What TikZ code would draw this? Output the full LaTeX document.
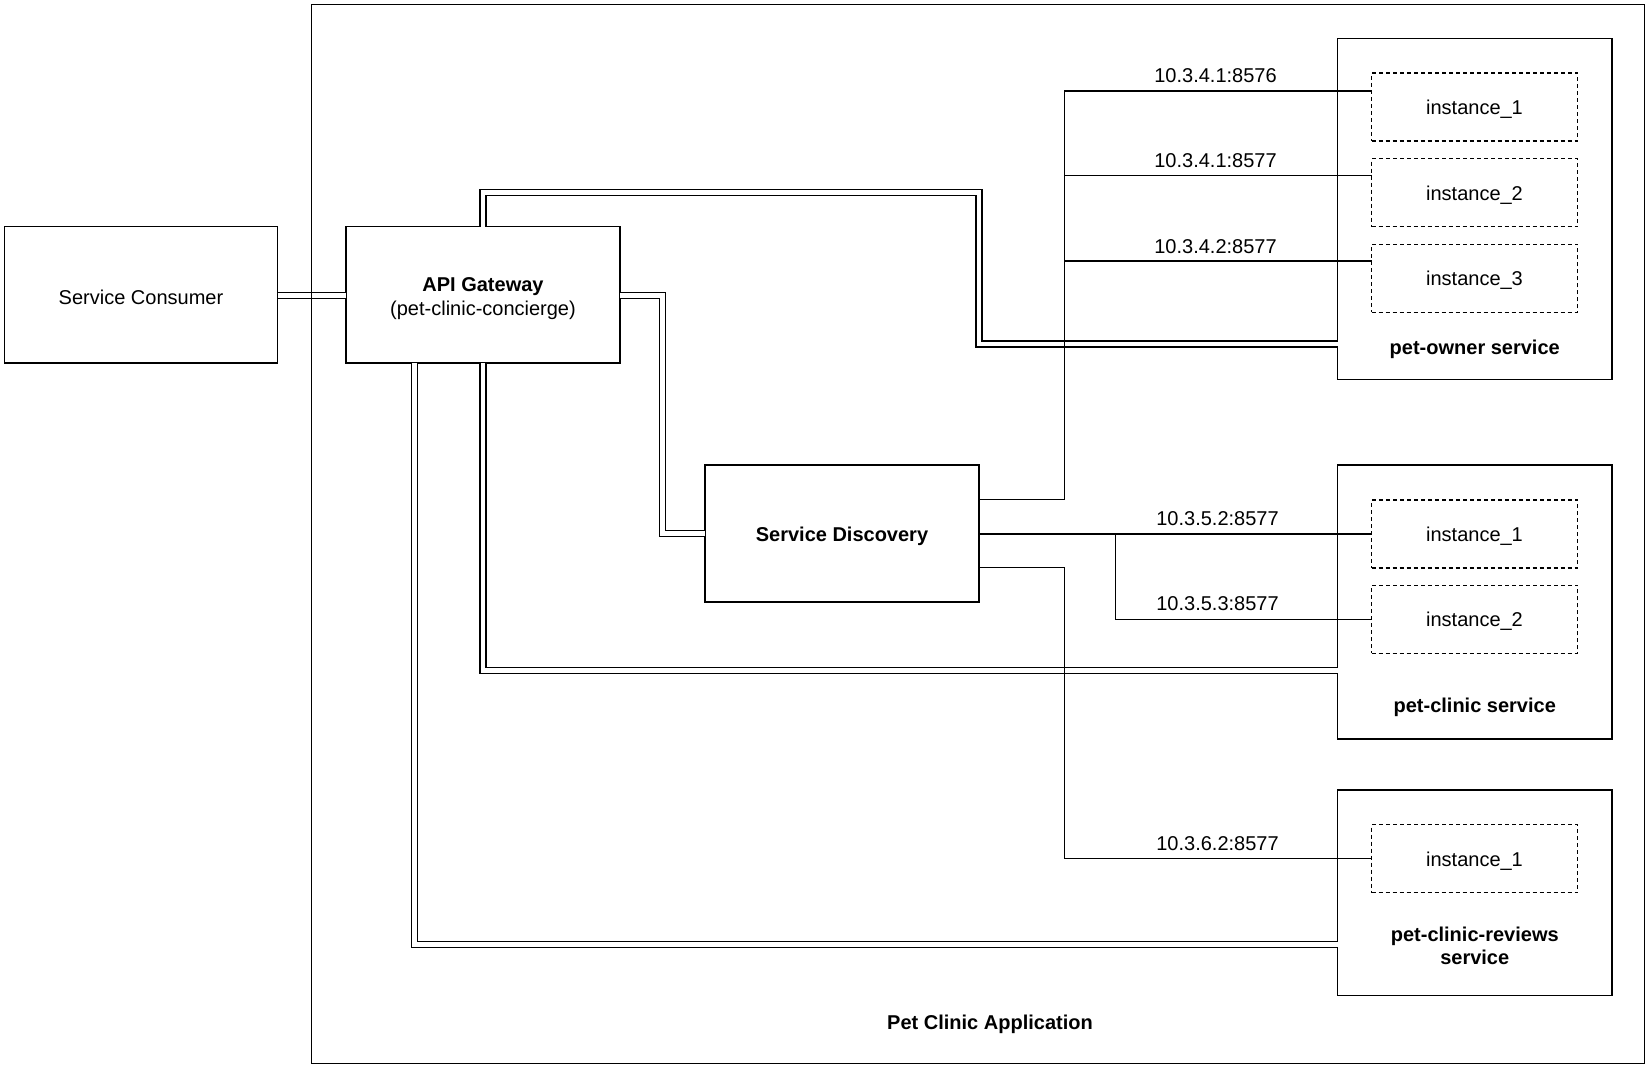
\documentclass[tikz,border=0pt]{standalone}
\usepackage{fontspec}
\setmainfont{Liberation Sans}
\begin{document}
\begin{tikzpicture}[x=1pt,y=-1pt,
  every node/.style={font=\fontsize{20}{24}\selectfont, inner sep=0pt, outer sep=0pt},
  box/.style={draw, line width=1.5pt, fill=white},
  inst/.style={draw, line width=1.5pt, dash pattern=on 4pt off 3pt, fill=white, minimum width=206pt, minimum height=68pt, text height=15pt, text depth=0pt},
  wire/.style={line width=1.5pt},
  dbl/.style={line width=1.4pt, double, double distance=4.6pt},
  lbl/.style={font=\fontsize{20}{24}\selectfont\bfseries, align=center},
  addr/.style={font=\fontsize{20}{24}\selectfont, text height=16.4pt, text depth=0pt}
]
\useasboundingbox (0,0) rectangle (1650,1069);
\fill[white] (0,0) rectangle (1650,1069);

% main boxes
\node[box, minimum width=273pt, minimum height=136.5pt, text height=18.5pt, text depth=0pt] (sc) at (141,294.75) {Service Consumer};
\node[box, minimum width=274pt, minimum height=136.5pt, align=center] (gw) at (483,294.75) {\rule{0pt}{21pt}\textbf{API Gateway}\\(pet-clinic-concierge)};
\node[box, minimum width=274pt, minimum height=137pt, font=\fontsize{20}{24}\selectfont\bfseries, text height=16.5pt, text depth=0pt] (sd) at (842,533.5) {Service Discovery};

% service boxes
\node[box, minimum width=274.5pt, minimum height=341pt] (po) at (1474.75,208.9) {};
\node[box, minimum width=274.5pt, minimum height=274pt] (pc) at (1474.75,602) {};
\node[box, minimum width=274.5pt, minimum height=205.5pt] (rv) at (1474.75,892.75) {};

\node[inst] (po1) at (1474.5,106.85) {instance\_1};
\node[inst] (po2) at (1474.5,192.7) {instance\_2};
\node[inst] (po3) at (1474.5,278.35) {instance\_3};
\node[inst] (pc1) at (1474.5,534) {instance\_1};
\node[inst] (pc2) at (1474.5,619.25) {instance\_2};
\node[inst] (rv1) at (1474.5,858.7) {instance\_1};

\node[lbl, text height=15.5pt, text depth=0pt] (pol) at (1474.75,346.7) {pet-owner service};
\node[lbl, text height=15.5pt, text depth=0pt] (pcl) at (1474.75,705) {pet-clinic service};
\node[lbl, font=\fontsize{20}{23}\selectfont\bfseries] (rvl) at (1474.75,946) {pet-clinic-reviews\\service};

% double connectors (gateway links)
\draw[dbl] (sc.east |- 0,295.5) -- (gw.west |- 0,295.5);
\draw[dbl] (gw.north) |- (979,192.5) |- (po.west |- 0,344);
\draw[dbl] (gw.east |- 0,295.5) -| (662.7,533.7) -- (sd.west |- 0,533.7);
\draw[dbl] (gw.south) |- (pc.west |- 0,670.3);
\draw[dbl] (gw.south -| 414.7,0) |- (rv.west |- 0,944.7);

% discovery links
\coordinate (bus) at (1064.3,0);
\coordinate (bus2) at (1115.7,0);
\draw[wire] (sd.east |- 0,499.5) -| (bus |- 0,91) -- (po1.west |- 0,91);
\draw[wire] (bus |- 0,175.7) -- (po2.west |- 0,175.7);
\draw[wire] (bus |- 0,261) -- (po3.west |- 0,261);
\draw[wire] (sd.east |- pc1.west) -- (pc1.west);
\draw[wire] (bus2 |- pc1.west) |- (pc2.west);
\draw[wire] (sd.east |- 0,567.7) -| (bus |- rv1.west) -- (rv1.west);

% address labels
\node[addr] (a1) at (1215.5,74) {10.3.4.1:8576};
\node[addr] (a2) at (1215.5,159.3) {10.3.4.1:8577};
\node[addr] (a3) at (1215.5,245) {10.3.4.2:8577};
\node[addr] (a4) at (1217.5,517.5) {10.3.5.2:8577};
\node[addr] (a5) at (1217.5,602.7) {10.3.5.3:8577};
\node[addr] (a6) at (1217.5,842) {10.3.6.2:8577};

% application frame
\node[draw, line width=1.5pt, minimum width=1333pt, minimum height=1059pt] (app) at (978,534) {};
\node[lbl, text height=15.5pt, text depth=0pt] (appl) at (990,1022) {Pet Clinic Application};
\end{tikzpicture}
\end{document}
